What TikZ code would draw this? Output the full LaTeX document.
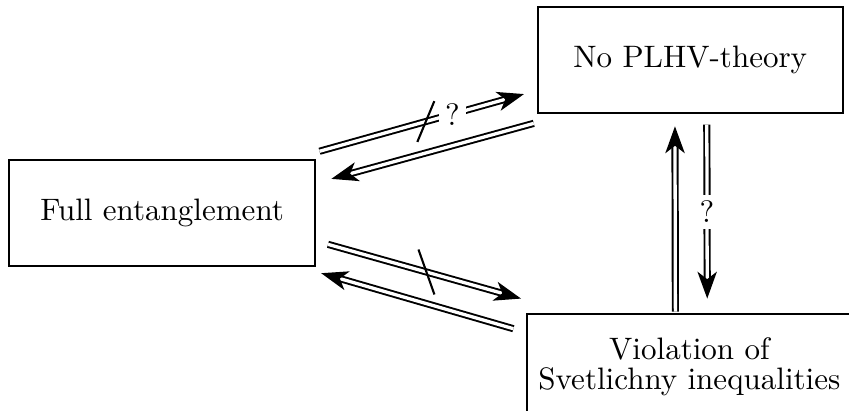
\documentclass[tikz,border=0pt]{standalone}
\usetikzlibrary{arrows.meta}

\begin{document}
\begin{tikzpicture}[
  box/.style={draw,line width=0.75pt,minimum height=1.25cm,align=center,font=\fontsize{10.4pt}{10.1pt}\selectfont},
  impl/.style={double,double distance=1.1pt,line width=0.65pt,-{Stealth[length=9pt,width=6.5pt,inset=2.5pt]}},
  notmark/.style={line width=0.7pt},
  qmark/.style={fill=white,inner sep=2pt,font=\fontsize{10.4pt}{12pt}\selectfont}]
  \useasboundingbox (0,0) rectangle (10,4.83);
  \clip (0,0) rectangle (10,4.83);
  % Boxes
  \node[box,minimum width=3.6cm] (full) at (1.91,2.32) {Full entanglement};
  \node[box,minimum width=3.59cm] (plhv) at (8.13,4.12) {No PLHV-theory};
  \node[box,minimum width=3.82cm] (viol) at (8.12,0.51) {Violation of\\Svetlichny inequalities};
  % Full entanglement <-> No PLHV-theory
  \draw[impl] ([shift={(0.04,0.09)}]full.north east) -- coordinate[pos=0.52] (cutA) node[qmark,pos=0.65] {?} ([shift={(-0.15,0.24)}]plhv.south west);
  \draw[notmark] ([shift={(-0.1,-0.24)}]cutA) -- ([shift={(0.1,0.24)}]cutA);
  \draw[impl] ([shift={(-0.035,-0.105)}]plhv.south west) -- ([shift={(0.18,-0.235)}]full.north east);
  % Full entanglement <-> Violation
  \draw[impl] ([shift={(0.14,0.27)}]full.south east) -- coordinate[pos=0.51] (cutB) ([shift={(-0.06,0.165)}]viol.north west);
  \draw[notmark] ([shift={(-0.094,0.265)}]cutB) -- ([shift={(0.094,-0.265)}]cutB);
  \draw[impl] ([shift={(-0.15,-0.19)}]viol.north west) -- ([shift={(0.06,-0.07)}]full.south east);
  % No PLHV-theory <-> Violation
  \draw[impl] ([shift={(-0.165,0.01)}]viol.north) -- ([shift={(-0.18,-0.14)}]plhv.south);
  \draw[impl] ([shift={(0.195,-0.12)}]plhv.south) -- node[qmark] {?} ([shift={(0.21,0.165)}]viol.north);
\end{tikzpicture}
\end{document}
